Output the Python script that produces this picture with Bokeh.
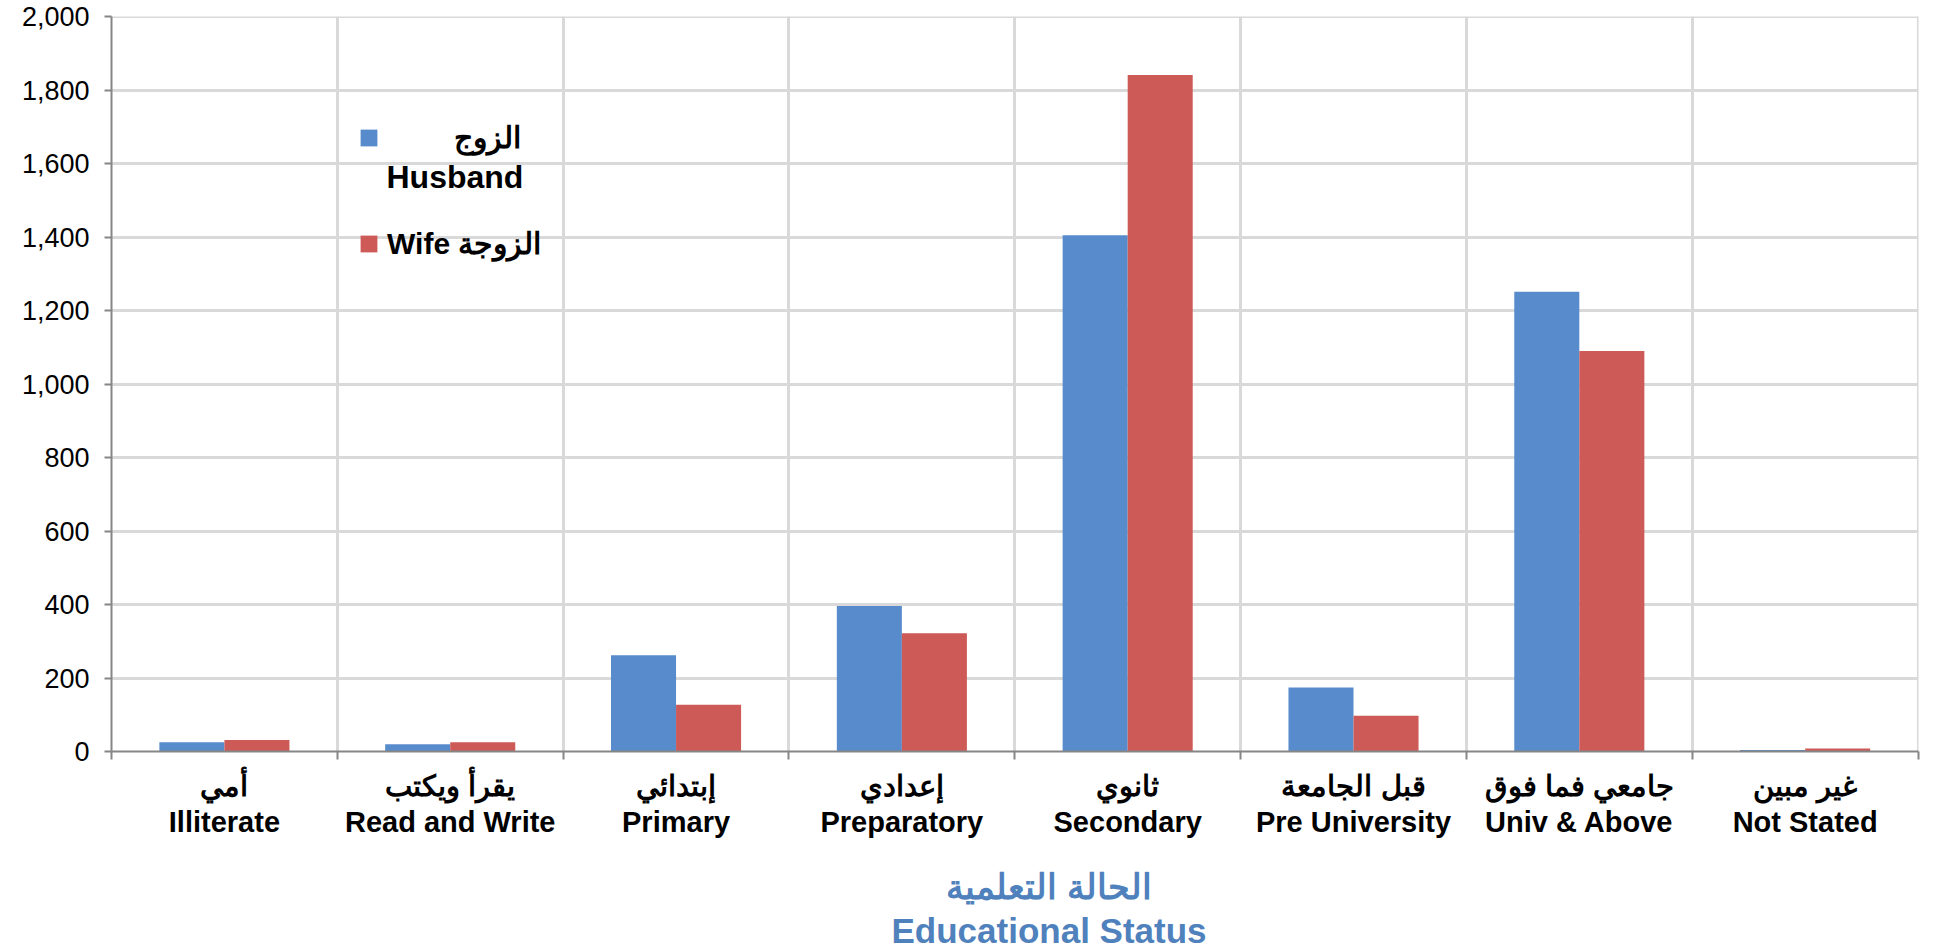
from bokeh.plotting import figure
from bokeh.models import Range1d, FixedTicker, NumeralTickFormatter, Legend, LegendItem, ColumnDataSource, Label
from bokeh.transform import dodge
from bokeh.embed import file_html
from bokeh.resources import INLINE

# ---- data ----
categories_ar = ["أمي", "يقرأ ويكتب", "إبتدائي", "إعدادي", "ثانوي", "قبل الجامعة", "جامعي فما فوق", "غير مبين"]
categories_en = ["Illiterate", "Read and Write", "Primary", "Preparatory", "Secondary",
                 "Pre University", "Univ & Above", "Not Stated"]
husband = [25, 20, 262, 396, 1405, 174, 1251, 4]
wife = [31, 25, 127, 322, 1841, 97, 1090, 8]
y_ticks = [0, 200, 400, 600, 800, 1000, 1200, 1400, 1600, 1800, 2000]
husband_ar = "الزوج"
husband_en = "Husband"
wife_label = "Wife الزوجة"
axis_title_ar = "الحالة التعلمية"
axis_title_en = "Educational Status"

FONT = "Liberation Sans"
BLUE = "#578BCB"
RED = "#CD5A57"
GRID = "#D9D9D9"
AXIS = "#868686"
NBSP = "\u00a0"

n = len(categories_en)
centers = [i + 0.5 for i in range(n)]
bounds = list(range(n + 1))

source = ColumnDataSource(dict(x=centers, husband=husband, wife=wife))

p = figure(frame_width=1807, frame_height=735, x_range=Range1d(0, n + 0.002), y_range=Range1d(0, 2000.5),
           output_backend="svg", toolbar_location=None,
           min_border_left=111, min_border_right=10, min_border_top=16, min_border_bottom=150)
p.outline_line_color = None

bw = 0.288
r1 = p.vbar(x=dodge("x", -bw / 2, range=p.x_range), top="husband", width=bw, bottom=0,
            source=source, fill_color=BLUE, line_color=None)
r2 = p.vbar(x=dodge("x", bw / 2, range=p.x_range), top="wife", width=bw, bottom=0,
            source=source, fill_color=RED, line_color=None)

# grids
p.xgrid.ticker = FixedTicker(ticks=bounds)
p.ygrid.ticker = FixedTicker(ticks=y_ticks)
for g in (p.xgrid, p.ygrid):
    g.grid_line_color = GRID
    g.grid_line_width = 3

# x axis
xa = p.xaxis[0]
xa.ticker = FixedTicker(ticks=centers, minor_ticks=bounds)
xa.major_label_overrides = {c: f"{a}\n{e}" for c, a, e in zip(centers, categories_ar, categories_en)}
xa.major_tick_out = 0
xa.major_tick_in = 0
xa.minor_tick_out = 8
xa.minor_tick_in = 0
xa.minor_tick_line_color = AXIS
xa.minor_tick_line_width = 2
xa.axis_line_color = AXIS
xa.axis_line_width = 2
xa.major_label_text_font = FONT
xa.major_label_text_font_size = "29px"
xa.major_label_text_font_style = "bold"
xa.major_label_text_color = "black"
xa.major_label_text_line_height = 1.15
xa.major_label_standoff = 10
xa.axis_label = NBSP * 7 + axis_title_ar + "\n" + NBSP * 7 + axis_title_en
xa.axis_label_text_font = FONT
xa.axis_label_text_font_size = "35px"
xa.axis_label_text_font_style = "bold"
xa.axis_label_text_color = "#4F81BD"
xa.axis_label_text_line_height = 1.12
xa.axis_label_standoff = 26

# y axis
ya = p.yaxis[0]
ya.ticker = FixedTicker(ticks=y_ticks)
ya.formatter = NumeralTickFormatter(format="0,0")
ya.major_tick_out = 7
ya.major_tick_in = 0
ya.minor_tick_out = 0
ya.minor_tick_in = 0
ya.major_tick_line_color = AXIS
ya.major_tick_line_width = 2
ya.axis_line_color = AXIS
ya.axis_line_width = 2
ya.major_label_text_font = FONT
ya.major_label_text_font_size = "27px"
ya.major_label_text_color = "black"
ya.major_label_standoff = 15

# legend
legend = Legend(items=[LegendItem(label=NBSP * 8 + husband_ar, renderers=[r1]),
                       LegendItem(label=wife_label, renderers=[r2])],
                location=(247, 490))
legend.glyph_width = 21
legend.glyph_height = 21
legend.label_standoff = 8
legend.padding = 0
legend.margin = 0
legend.spacing = 71
legend.border_line_color = None
legend.background_fill_alpha = 0
legend.label_text_font = FONT
legend.label_text_font_size = "30px"
legend.label_text_font_style = "bold"
legend.label_text_color = "black"
p.add_layout(legend)

p.add_layout(Label(x=275, y=575, x_units="screen", y_units="screen", text=husband_en,
                   text_font=FONT, text_font_size="32px", text_font_style="bold",
                   text_color="black", text_baseline="alphabetic"))

open("out.html", "w").write(file_html(p, INLINE))
